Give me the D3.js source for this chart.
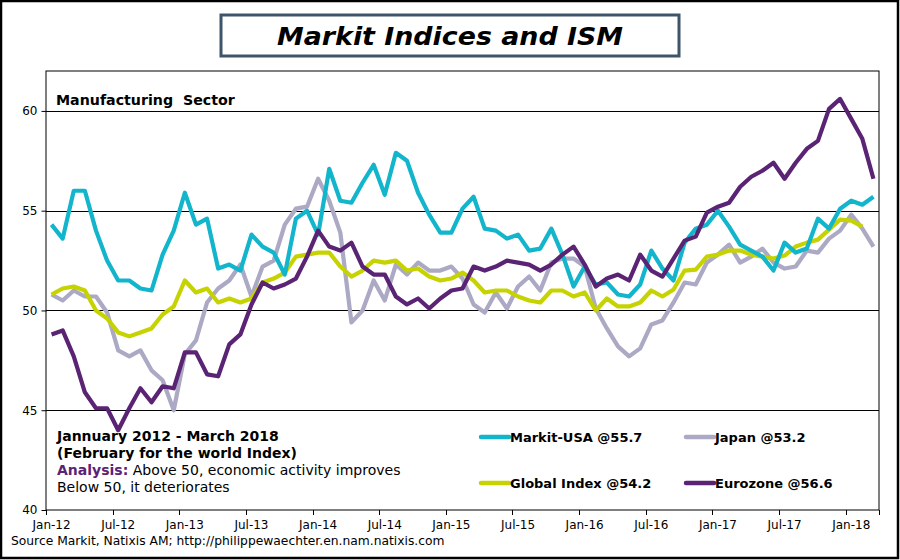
<!DOCTYPE html>
<html><head><meta charset="utf-8">
<script src="https://cdn.jsdelivr.net/npm/d3@7/dist/d3.min.js"></script>
<style>
html,body{margin:0;padding:0;background:#fff;}
svg{display:block;font-family:"DejaVu Sans",Verdana,sans-serif;}
</style></head>
<body><svg id="c" width="900" height="560"></svg>
<script>
// ---- data (Jan-2012 .. Mar-2018, monthly) ----
const startYear = 2012, startMonth = 0, nMonths = 75;
const usa = [54.3,53.6,56.0,56.0,54.0,52.5,51.5,51.5,51.1,51.0,52.8,54.0,
  55.9,54.3,54.6,52.1,52.3,52.0,53.8,53.2,52.9,51.8,54.6,55.0,
  53.8,57.1,55.5,55.4,56.4,57.3,55.8,57.9,57.5,55.9,54.8,53.9,
  53.9,55.1,55.7,54.1,54.0,53.6,53.8,53.0,53.1,54.1,52.8,51.2,
  52.2,51.3,51.4,50.8,50.7,51.3,53.0,52.1,51.5,53.4,54.1,54.3,
  55.0,54.2,53.3,53.0,52.7,52.0,53.4,52.9,53.1,54.6,54.1,55.1,
  55.5,55.3,55.7];
const japan = [50.8,50.5,51.0,50.7,50.7,49.9,48.0,47.7,48.0,47.0,46.5,45.0,
  47.8,48.5,50.4,51.1,51.5,52.3,50.7,52.2,52.5,54.3,55.1,55.2,
  56.6,55.5,53.9,49.4,50.0,51.5,50.5,52.3,51.8,52.4,52.0,52.0,
  52.2,51.6,50.3,49.9,50.9,50.1,51.2,51.7,51.0,52.4,52.6,52.6,
  52.2,50.1,49.1,48.2,47.7,48.1,49.3,49.5,50.4,51.4,51.3,52.4,
  52.8,53.3,52.4,52.7,53.1,52.4,52.1,52.2,53.0,52.9,53.6,54.0,
  54.8,54.1,53.2];
const global = [50.8,51.1,51.2,51.0,50.0,49.6,48.9,48.7,48.9,49.1,49.8,50.2,
  51.5,50.9,51.1,50.4,50.6,50.4,50.6,51.4,51.6,51.9,52.7,52.8,
  52.9,52.9,52.2,51.7,52.0,52.5,52.4,52.5,52.0,52.1,51.7,51.5,
  51.6,51.9,51.5,50.9,51.0,51.0,50.7,50.5,50.4,51.0,51.0,50.7,
  50.9,50.0,50.6,50.2,50.2,50.4,51.0,50.7,51.05,52.0,52.05,52.7,
  52.8,53.0,53.0,52.8,52.7,52.6,52.75,53.2,53.4,53.55,54.05,54.55,
  54.5,54.2];
const eurozone = [48.8,49.0,47.7,45.9,45.1,45.1,44.0,45.1,46.1,45.4,46.2,46.1,
  47.9,47.9,46.8,46.7,48.3,48.8,50.3,51.4,51.1,51.3,51.6,52.7,
  54.0,53.2,53.0,53.4,52.2,51.8,51.8,50.7,50.3,50.6,50.1,50.6,
  51.0,51.1,52.2,52.0,52.2,52.5,52.4,52.3,52.0,52.3,52.8,53.2,
  52.3,51.2,51.6,51.8,51.5,52.8,52.0,51.7,52.6,53.5,53.7,54.9,
  55.2,55.4,56.2,56.7,57.0,57.4,56.6,57.4,58.1,58.5,60.1,60.6,
  59.6,58.6,56.6];
const seriesNames = ["Markit-USA @55.7","Japan @53.2","Global Index @54.2","Eurozone @56.6"];
const seriesColors = ["#12B5CB","#ABA9C3","#C6D300","#5A2374"];
const yTicks = [40,45,50,55,60];
const xTickLabels = ["Jan-12","Jul-12","Jan-13","Jul-13","Jan-14","Jul-14","Jan-15","Jul-15","Jan-16","Jul-16","Jan-17","Jul-17","Jan-18"];

const months = d3.range(nMonths).map(i => new Date(startYear, startMonth + i, 1));
const fmt = d3.timeFormat("%b-%y");
const cats = months.map(fmt);

const svg = d3.select("#c");
const W = 900, H = 560;
const L = 46, R = 879, T = 71, B = 510;

// outer frame
svg.append("rect").attr("x",1).attr("y",1).attr("width",W-3).attr("height",H-3)
  .attr("fill","#fff").attr("stroke","#000").attr("stroke-width",2.5);

// title
svg.append("rect").attr("x",221).attr("y",15).attr("width",458).attr("height",41)
  .attr("fill","#fff").attr("stroke","#3E5468").attr("stroke-width",3);
svg.append("text").attr("x",450).attr("y",45).attr("text-anchor","middle")
  .attr("font-size",25).attr("font-weight","bold").attr("font-style","italic")
  .attr("textLength",346).attr("lengthAdjust","spacingAndGlyphs")
  .text("Markit Indices and ISM");

const x = d3.scaleBand().domain(cats).range([L,R]).paddingInner(0).paddingOuter(0);
const y = d3.scaleLinear().domain([40,62]).range([B,T]);
const cx = c => x(c) + x.bandwidth()/2;

// plot frame
svg.append("rect").attr("x",L).attr("y",T).attr("width",R-L).attr("height",B-T)
  .attr("fill","none").attr("stroke","#000").attr("stroke-width",1);

// gridlines
svg.append("g").selectAll("line").data(yTicks.filter(v=>v>40)).join("line")
  .attr("x1",L).attr("x2",R).attr("y1",d=>Math.round(y(d))+0.5).attr("y2",d=>Math.round(y(d))+0.5)
  .attr("stroke","#000").attr("stroke-width",1);

// y axis
const yAxis = svg.append("g").attr("transform",`translate(${L+0.5},0)`)
  .call(d3.axisLeft(y).tickValues(yTicks).tickSize(5).tickPadding(4).tickFormat(d3.format("d")));
yAxis.select(".domain").remove();
yAxis.selectAll(".tick line").attr("stroke","#000");
yAxis.selectAll("text").attr("font-size",12).attr("fill","#000").attr("font-family","DejaVu Sans, Verdana, sans-serif");

// x axis: ticks at category boundaries every 6 months, labels centred on category
const tickCats = cats.filter((c,i)=> i%6===0);
const xg = svg.append("g");
xg.selectAll("line").data(tickCats.map(c=>x(c)).concat([R])).join("line")
  .attr("x1",d=>Math.round(d)+0.5).attr("x2",d=>Math.round(d)+0.5)
  .attr("y1",B).attr("y2",B+5).attr("stroke","#000");
xg.selectAll("text").data(tickCats).join("text")
  .attr("x",d=>cx(d)).attr("y",529).attr("text-anchor","middle")
  .attr("font-size",12).text((d,i)=>xTickLabels[i]);

// lines
const line = d3.line().x((d,i)=>cx(cats[i])).y(d=>y(d));
const allSeries = [usa, japan, global, eurozone];
const drawOrder = [1,2,0,3];
drawOrder.forEach(k=>{
  svg.append("path").datum(allSeries[k]).attr("d",line)
    .attr("fill","none").attr("stroke",seriesColors[k]).attr("stroke-width",4.2)
    .attr("stroke-linejoin","round").attr("stroke-linecap","butt");
});

// texts
svg.append("text").attr("x",56).attr("y",105).attr("font-size",14.2).attr("font-weight","bold")
  .attr("xml:space","preserve").text("Manufacturing  Sector");

const ann = svg.append("g").attr("font-size",14);
ann.append("text").attr("x",57).attr("y",441).attr("font-weight","bold").text("Jannuary 2012 - March 2018");
ann.append("text").attr("x",57).attr("y",458).attr("font-weight","bold").text("(February for the world Index)");
const t3 = ann.append("text").attr("x",57).attr("y",475);
t3.append("tspan").attr("font-weight","bold").attr("fill","#5A2374").text("Analysis:");
t3.append("tspan").text(" Above 50, economic activity improves");
ann.append("text").attr("x",57).attr("y",492).text("Below 50, it deteriorates");

// legend
const legPos = [[480,437],[685,437],[480,483],[685,483]];
seriesNames.forEach((n,k)=>{
  const [lx,ly] = legPos[k];
  svg.append("line").attr("x1",lx+1).attr("x2",lx+29).attr("y1",ly).attr("y2",ly)
    .attr("stroke",seriesColors[k]).attr("stroke-width",4.5).attr("stroke-linecap","round");
  svg.append("text").attr("x",lx+30).attr("y",ly+5).attr("font-size",13).attr("font-weight","bold")
    .text(n);
});

// source
svg.append("text").attr("x",11).attr("y",545).attr("font-size",12.3)
  .text("Source Markit, Natixis AM; http://philippewaechter.en.nam.natixis.com");
</script>
</body></html>
